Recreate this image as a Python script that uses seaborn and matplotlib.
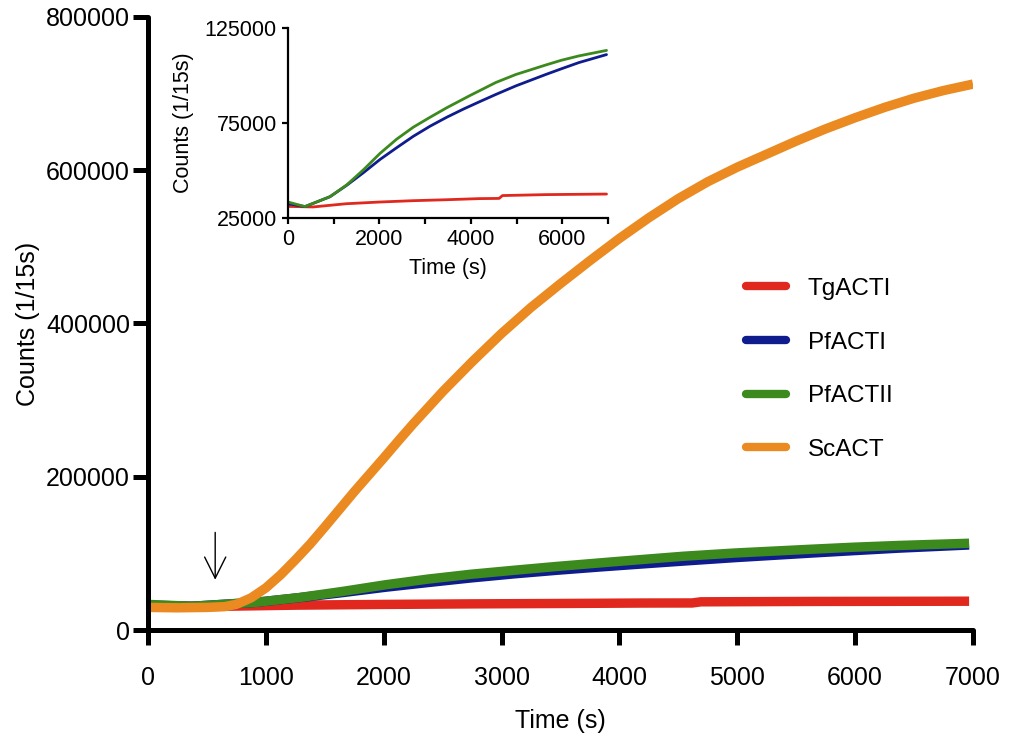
import numpy as np
import pandas as pd
import matplotlib
matplotlib.use("Agg")
import matplotlib.pyplot as plt
import seaborn as sns

# ---- data ----
series_names = ["TgACTI", "PfACTI", "PfACTII", "ScACT"]
colors = ["#E0281E", "#0E1C8E", "#3C8A1E", "#EA8A20"]

tg_time = [0, 545, 1273, 2000, 2727, 3455, 4182, 4618, 4691, 5636, 6967]
tg_counts = [31100, 30800, 32500, 33400, 34100, 34600, 35200, 35300, 36800, 37300, 37600]

pf1_time = [0, 372, 919, 1284, 1648, 2013, 2378, 2742, 3107, 3471, 3836, 4200, 4545, 4982, 5636, 5978, 6364, 6967]
pf1_counts = [32500, 31000, 36200, 42200, 48800, 55800, 62000, 68000, 73300, 78000, 82300, 86300, 90000, 94500, 100500, 103500, 106800, 111000]

pf2_time = [0, 372, 919, 1284, 1648, 2013, 2378, 2742, 3107, 3471, 3985, 4545, 4982, 5636, 5978, 6364, 6967]
pf2_counts = [33400, 31000, 36200, 42400, 50300, 59000, 66500, 72800, 78000, 83000, 89500, 96300, 100500, 105500, 108000, 110300, 113200]

sc_time = [0, 250, 500, 650, 750, 875, 1000, 1125, 1250, 1375, 1500, 1625, 1750, 1875, 2000,
           2125, 2250, 2375, 2500, 2750, 3000, 3250, 3500, 3750, 4000, 4250, 4500, 4750,
           5000, 5250, 5500, 5750, 6000, 6250, 6500, 6750, 7000]
sc_counts = [29500, 29000, 29500, 30500, 33500, 42000, 55000, 72000, 91500, 112000, 134500, 157500, 180500, 202500, 224500,
             247000, 269000, 290000, 311000, 350000, 387000, 421000, 452000, 482000, 511000, 538000, 563000, 585000,
             604000, 621000, 638000, 654000, 668500, 682000, 694000, 704000, 712400]

main_xticks = [0, 1000, 2000, 3000, 4000, 5000, 6000, 7000]
main_yticks = [0, 200000, 400000, 600000, 800000]
inset_xticks = [0, 2000, 4000, 6000]
inset_xminor = [1000, 3000, 5000, 7000]
inset_yticks = [25000, 75000, 125000]

frames = []
for name, t, c in [("TgACTI", tg_time, tg_counts), ("PfACTI", pf1_time, pf1_counts),
                   ("PfACTII", pf2_time, pf2_counts), ("ScACT", sc_time, sc_counts)]:
    frames.append(pd.DataFrame({"Time": t, "Counts": c, "Series": name}))
df = pd.concat(frames, ignore_index=True)
palette = dict(zip(series_names, colors))

sns.set_theme(style="ticks")
plt.rcParams["font.family"] = ["Liberation Sans", "DejaVu Sans"]
for k in ["text.color", "axes.labelcolor", "xtick.color", "ytick.color", "axes.edgecolor"]:
    plt.rcParams[k] = "black"

fig = plt.figure(figsize=(10.09, 7.44), dpi=100)
ax = fig.add_axes([0.1467, 0.1532, 0.8176, 0.824])

for name in series_names:
    sub = df[df["Series"] == name]
    sns.lineplot(data=sub, x="Time", y="Counts", color=palette[name], lw=6.8,
                 estimator=None, sort=True, ax=ax, label=name, solid_capstyle="butt")

ax.set_xlim(0, 7000)
ax.set_ylim(0, 800000)
ax.set_xticks(main_xticks)
ax.set_yticks(main_yticks)
ax.set_xticklabels([str(v) for v in main_xticks], fontsize=18)
ax.set_yticklabels([str(v) for v in main_yticks], fontsize=18)
for s in ["top", "right"]:
    ax.spines[s].set_visible(False)
for s in ["left", "bottom"]:
    ax.spines[s].set_linewidth(3.6)
    ax.spines[s].set_capstyle("round")
    ax.spines[s].set_color("black")
ax.tick_params(axis="both", width=3.6, length=10.5, color="black", labelcolor="black")
ax.tick_params(axis="x", pad=15.5)
ax.tick_params(axis="y", pad=2.5)
for tl in ax.xaxis.get_ticklines() + ax.yaxis.get_ticklines():
    tl.set_solid_capstyle("round")
ax.set_xlabel("Time (s)", fontsize=18, labelpad=13.5, color="black")
ax.set_ylabel("Counts (1/15s)", fontsize=18, labelpad=4, color="black")

ax.annotate("", xy=(570, 62000), xytext=(570, 131000),
            arrowprops=dict(arrowstyle="->", lw=1.0, color="black", mutation_scale=38))

leg = ax.legend(loc="upper left", bbox_to_anchor=(0.6983, 0.610), frameon=False,
                fontsize=17.5, handlelength=1.65, handletextpad=0.9, labelspacing=1.3)
for h in leg.get_lines():
    h.set_linewidth(6)
    h.set_solid_capstyle("round")
for t in leg.get_texts():
    t.set_color("black")

# ---- inset ----
ins = fig.add_axes([0.2854, 0.707, 0.3172, 0.2554])
for name in series_names[:3]:
    sub = df[df["Series"] == name]
    sns.lineplot(data=sub, x="Time", y="Counts", color=palette[name], lw=2.0,
                 estimator=None, sort=True, ax=ins, legend=False)
ins.set_xlim(0, 7000)
ins.set_ylim(25000, 125000)
ins.set_xticks(inset_xticks)
ins.set_xticks(inset_xminor, minor=True)
ins.set_yticks(inset_yticks)
ins.set_xticklabels([str(v) for v in inset_xticks], fontsize=15.5)
ins.set_yticklabels([str(v) for v in inset_yticks], fontsize=15.5)
for s in ["top", "right"]:
    ins.spines[s].set_visible(False)
for s in ["left", "bottom"]:
    ins.spines[s].set_linewidth(1.6)
    ins.spines[s].set_color("black")
ins.tick_params(axis="both", which="both", width=1.6, length=4, color="black", pad=4, labelcolor="black")
ins.set_xlabel("Time (s)", fontsize=15.5, labelpad=6, color="black")
ins.set_ylabel("Counts (1/15s)", fontsize=15.5, labelpad=8, color="black")
ins.patch.set_alpha(0)

fig.savefig("out.png", dpi=100)
